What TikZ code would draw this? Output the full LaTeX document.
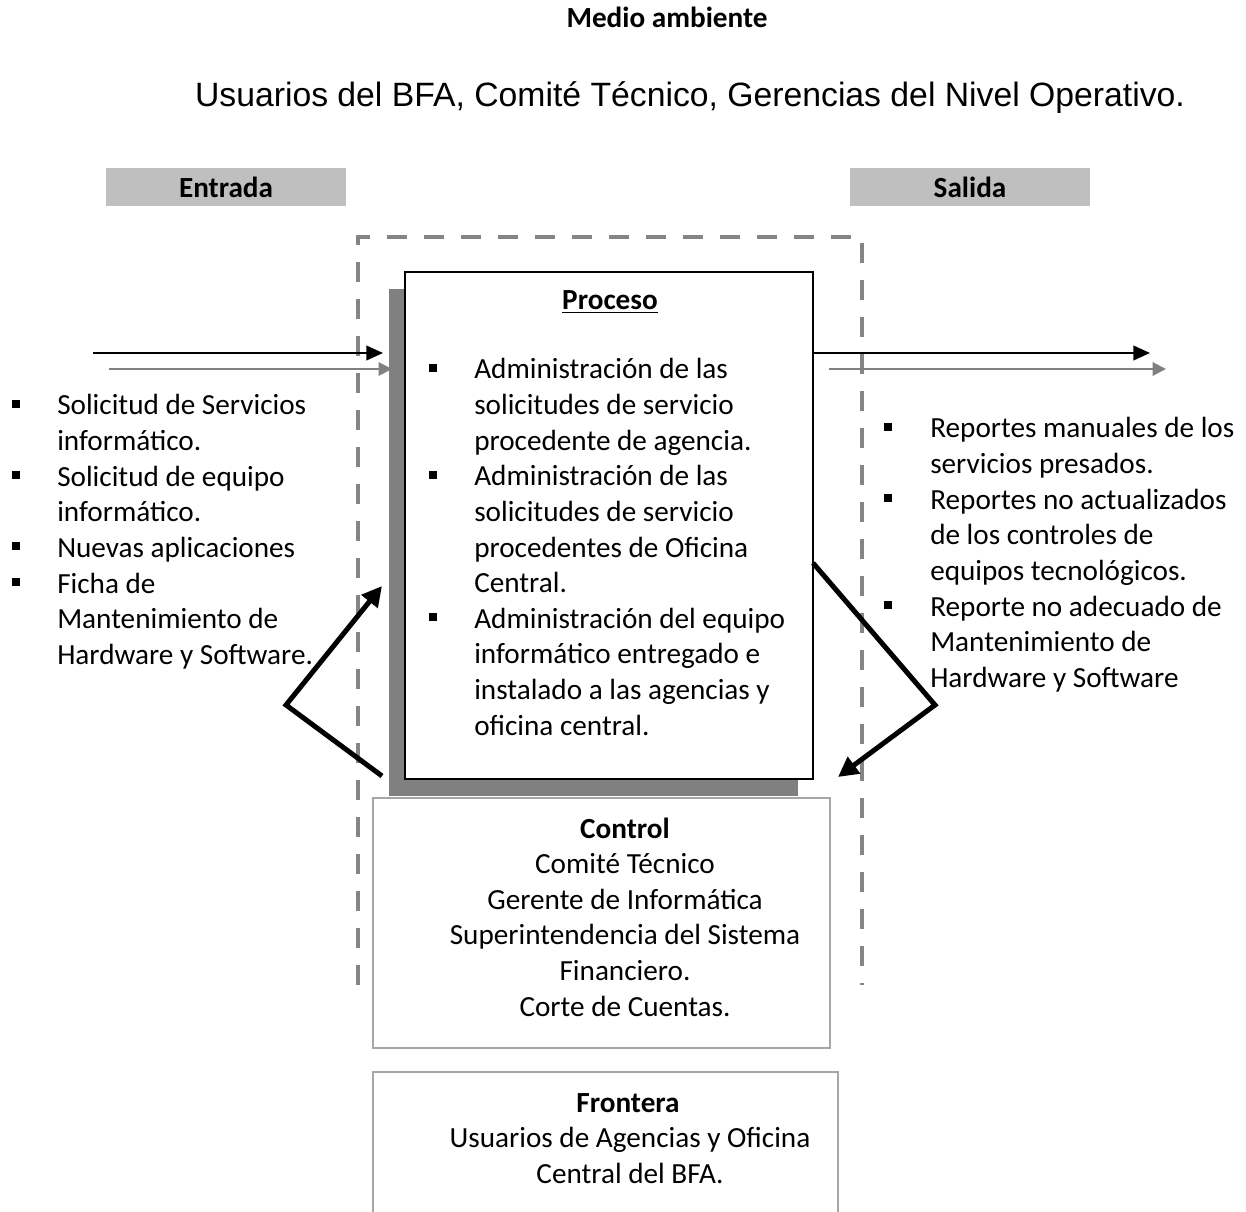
\documentclass[tikz,border=0pt]{standalone}
\usepackage{fontspec}
\setmainfont{Carlito}
\newfontfamily\arialfont{Liberation Sans}
\usetikzlibrary{arrows.meta}

\definecolor{shadowgray}{HTML}{808080}
\definecolor{labelgray}{HTML}{BFBFBF}
\definecolor{framegray}{HTML}{A6A6A6}
\definecolor{dashgray}{HTML}{858585}

\begin{document}
\begin{tikzpicture}[x=0.75pt,y=-0.75pt,
  body/.style={inner sep=0pt, font=\fontsize{21.9}{26.8}\selectfont},
  txt/.style={body, anchor=base west},
  ctxt/.style={body, anchor=base},
  heading/.style={body, anchor=base, font=\fontsize{21.9}{26.8}\selectfont\bfseries},
  labelbox/.style={fill=labelgray, draw=none, minimum width=180pt, minimum height=28.5pt,
    inner sep=0pt, font=\fontsize{21.9}{26.8}\selectfont\bfseries},
  procbox/.style={draw=black, line width=1.5pt, fill=white, minimum width=306pt,
    minimum height=380.25pt, inner sep=0pt},
  infobox/.style={draw=framegray, line width=1.2pt, fill=white, inner sep=0pt},
  bulletsq/.style={fill=black},
  dashframe/.style={draw=dashgray, line width=3.6pt, dash pattern=on 15pt off 12.75pt},
  flowarrow/.style={line width=1.5pt, -{Triangle[length=12.5pt,width=11pt]}},
  flowgray/.style={draw=shadowgray, line width=1.5pt, -{Triangle[length=10pt,width=10pt]}},
  loop/.style={line width=3.75pt, line join=miter, -{Triangle[length=15pt,width=15pt]}}
]
\useasboundingbox (0,0) rectangle (1246,1212);
\clip (0,0) rectangle (1246,1212);

% heading and environment line
\node[heading] (medio) at (667,28) {Medio ambiente};
\node[inner sep=0pt, anchor=base, font=\arialfont\fontsize{25.3}{30}\selectfont] (env)
  at (690,107) {Usuarios del BFA, Comité Técnico, Gerencias del Nivel Operativo.};

% input / output labels
\node[labelbox] (entrada) at (226,187) {Entrada};
\node[labelbox] (salida) at (970,187) {Salida};

% system boundary (dashed, open at the bottom)
\draw[dashframe] (358,985) -- (358,237) -- (862,237) -- (862,985);

% process box with its shadow
\fill[shadowgray] (389,289) rectangle (798,796);
\node[procbox] (proc) at (609,525.5) {};

% control and boundary boxes
\node[infobox, minimum width=342.75pt, minimum height=187.5pt] (control) at (601.5,923) {};
\node[infobox, minimum width=348.75pt, minimum height=126pt] (frontera) at (605.5,1156) {};

% process title and items
\node[heading] (proc-title) at (610,310) {\underline{Proceso}};
\foreach \t [count=\i] in {
  {Administración de las}, {solicitudes de servicio}, {procedente de agencia.},
  {Administración de las}, {solicitudes de servicio}, {procedentes de Oficina},
  {Central.}, {Administración del equipo}, {informático entregado e},
  {instalado a las agencias y}, {oficina central.}}
  \node[txt] (proc-\i) at (474,{379+35.6*(\i-1)}) {\t};
\foreach \i in {1,4,8}
  \fill[bulletsq] (429,{379+35.6*(\i-1)-15}) rectangle ++(8,8);

% inputs
\foreach \t [count=\i] in {
  {Solicitud de Servicios}, {informático.}, {Solicitud de equipo}, {informático.},
  {Nuevas aplicaciones}, {Ficha de}, {Mantenimiento de}, {Hardware y Software.}}
  \node[txt] (in-\i) at (57,{415+35.6*(\i-1)}) {\t};
\foreach \i in {1,3,5,6}
  \fill[bulletsq] (12,{415+35.6*(\i-1)-15}) rectangle ++(8,8);

% outputs
\foreach \t [count=\i] in {
  {Reportes manuales de los}, {servicios presados.}, {Reportes no actualizados},
  {de los controles de}, {equipos tecnológicos.}, {Reporte no adecuado de},
  {Mantenimiento de}, {Hardware y Software}}
  \node[txt] (out-\i) at (930,{438+35.6*(\i-1)}) {\t};
\foreach \i in {1,3,6}
  \fill[bulletsq] (884,{438+35.6*(\i-1)-15}) rectangle ++(8,8);

% control text
\node[heading] (ctl-title) at (625,838) {Control};
\foreach \t [count=\i] in {
  {Comité Técnico}, {Gerente de Informática}, {Superintendencia del Sistema},
  {Financiero.}, {Corte de Cuentas.}}
  \node[ctxt] (ctl-\i) at (625,{838+35.6*\i}) {\t};

% boundary text
\node[heading] (fro-title) at (628,1112) {Frontera};
\foreach \t [count=\i] in {{Usuarios de Agencias y Oficina}, {Central del BFA.}}
  \node[ctxt] (fro-\i) at (630,{1112+35.6*\i}) {\t};

% flow arrows
\coordinate (in-a) at (93,353);
\coordinate (in-b) at (109,369);
\coordinate (in-a-end) at (383,353);
\coordinate (in-b-end) at (392,369);
\coordinate (out-a) at (proc.east |- in-a);
\coordinate (out-b) at (829,369);
\coordinate (out-a-end) at (1150,353);
\coordinate (out-b-end) at (1166,369);
\draw[flowarrow] (in-a) -- (in-a-end);
\draw[flowgray] (in-b) -- (in-b-end);
\draw[flowarrow] (out-a) -- (out-a-end);
\draw[flowgray] (out-b) -- (out-b-end);

% feedback arrows
\coordinate (fbl-start) at (382,776);
\coordinate (fbl-corner) at (286,705);
\coordinate (fbl-end) at (382,586);
\coordinate (fbr-start) at (813,563);
\coordinate (fbr-corner) at (935,705);
\coordinate (fbr-end) at (838,777);
\draw[loop] (fbl-start) -- (fbl-corner) -- (fbl-end);
\draw[loop] (fbr-start) -- (fbr-corner) -- (fbr-end);
\end{tikzpicture}
\end{document}
